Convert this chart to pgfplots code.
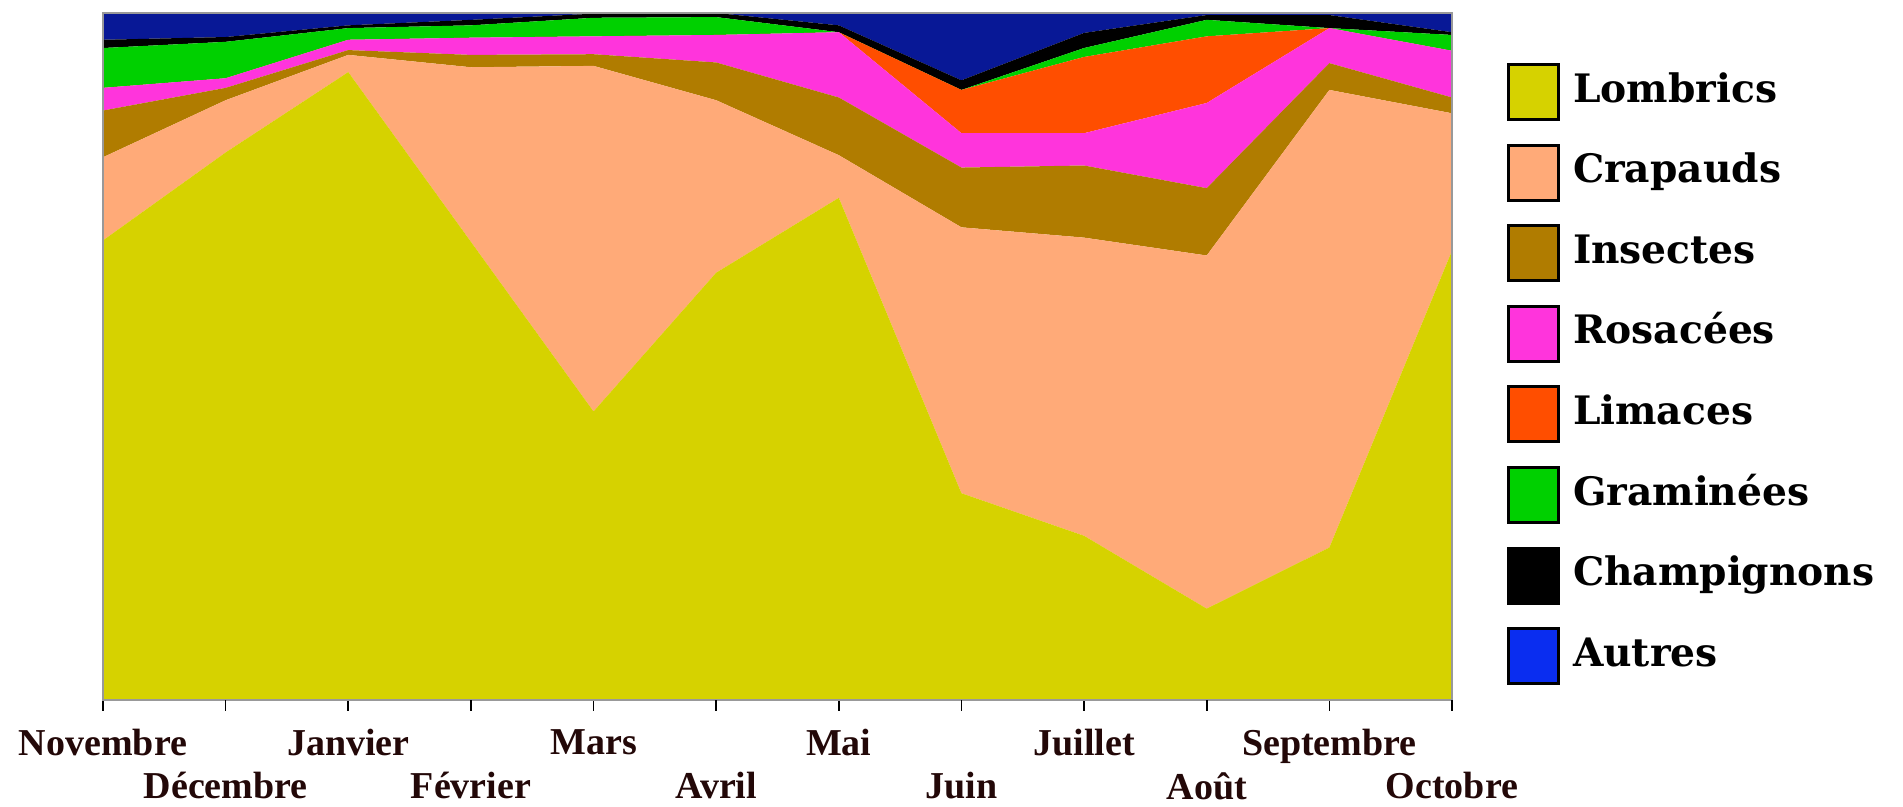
\documentclass[border=0pt]{standalone}
\usepackage{fontspec}
\setmainfont{Liberation Serif}
\newfontfamily\legfont{DejaVu Serif}
\usepackage{pgfplots}
\usepackage{pgfplotstable}
\pgfplotsset{compat=1.18}
\definecolor{lomb}{RGB}{214,210,0}
\definecolor{crap}{RGB}{255,170,120}
\definecolor{inse}{RGB}{176,124,0}
\definecolor{rosa}{RGB}{255,52,220}
\definecolor{lima}{RGB}{255,78,0}
\definecolor{gram}{RGB}{0,208,0}
\definecolor{cham}{RGB}{0,0,0}
\definecolor{autr}{RGB}{8,24,150}
\definecolor{autrleg}{RGB}{10,45,240}
\definecolor{labc}{RGB}{35,8,8}

\pgfplotstableread{
x  Y    C    I    R    L    G   Ch  A
0  66.9 12.1 6.8  3.3  0    5.8 1.2 3.9
1  79.7 7.6  1.8  1.4  0    5.3 0.7 3.5
2  91.4 2.5  0.7  1.5  0    1.7 0.4 1.8
3  66.7 25.4 1.8  2.5  0    1.8 0.8 1.0
4  42.0 50.3 1.7  2.6  0    2.7 0.6 0.1
5  62.2 25.1 5.5  4.0  0    2.6 0.6 0.0
6  73.1 6.2  8.4  9.5  0    0.0 1.0 1.8
7  30.1 38.7 8.7  5.0  6.3  0.0 1.4 9.8
8  23.9 43.4 10.5 4.7  11.1 1.3 2.2 2.9
9  13.3 51.4 9.8  12.4 9.7  2.4 0.7 0.3
10 22.2 66.6 3.9  5.1  0    0.0 1.9 0.3
11 65.4 20.0 2.3  6.8  0    2.3 0.4 2.8
}\data

\begin{document}
\begin{tikzpicture}[x=1pt,y=1pt]
\path[use as bounding box] (-51.5,-53.5) rectangle (900,350);
\begin{axis}[
  scale only axis,
  width=674.5pt, height=343.5pt,
  xmin=0, xmax=11, ymin=0, ymax=100,
  stack plots=y,
  axis on top,
  axis line style={draw=black!40, line width=0.8pt},
  ytick=\empty,
  xtick={0,2,4,6,8,10},
  xticklabels={Novembre,Janvier,Mars,Mai,Juillet,Septembre},
  extra x ticks={1,3,5,7,9,11},
  extra x tick labels={Décembre,Février,Avril,Juin,Août,Octobre},
  extra x tick style={xticklabel style={yshift=-21.5pt}},
  tick align=outside,
  tick pos=bottom,
  major tick length=5.5pt,
  tick style={black, line width=0.8pt},
  xticklabel style={font=\bfseries\fontsize{19}{20}\selectfont, text=labc, inner sep=0pt, anchor=north, yshift=-9pt},
  legend image code/.code={\draw[#1, draw=black, line width=1.5pt] (0pt,-13.75pt) rectangle (25pt,13.75pt);},
  legend style={at={(rel axis cs:1.0408,0.9272)}, anchor=north west, draw=none, fill=none,
    inner sep=0pt, outer sep=0pt, row sep=11.3pt,
    font=\legfont\bfseries\fontsize{19.6}{21}\selectfont,
    nodes={text height=14pt, text depth=4pt, inner sep=0pt, anchor=west},
    /tikz/every odd column/.style={column sep=6.5pt}},
  legend cell align=left,
]
\addplot[fill=lomb, draw=none] table[x=x,y=Y] {\data} \closedcycle;
\addplot[fill=crap, draw=none] table[x=x,y=C] {\data} \closedcycle;
\addplot[fill=inse, draw=none] table[x=x,y=I] {\data} \closedcycle;
\addplot[fill=rosa, draw=none] table[x=x,y=R] {\data} \closedcycle;
\addplot[fill=lima, draw=none] table[x=x,y=L] {\data} \closedcycle;
\addplot[fill=gram, draw=none] table[x=x,y=G] {\data} \closedcycle;
\addplot[fill=cham, draw=none] table[x=x,y=Ch] {\data} \closedcycle;
\addplot[fill=autr, draw=none, legend image code/.code={\draw[fill=autrleg, draw=black, line width=1.5pt] (0pt,-13.75pt) rectangle (25pt,13.75pt);}] table[x=x,y=A] {\data} \closedcycle;
\legend{Lombrics,Crapauds,Insectes,Rosacées,Limaces,Graminées,Champignons,Autres}
\draw[black!75!lomb, line width=1.4pt] (rel axis cs:0,0) -- (rel axis cs:1,0);
\end{axis}
\end{tikzpicture}
\end{document}
